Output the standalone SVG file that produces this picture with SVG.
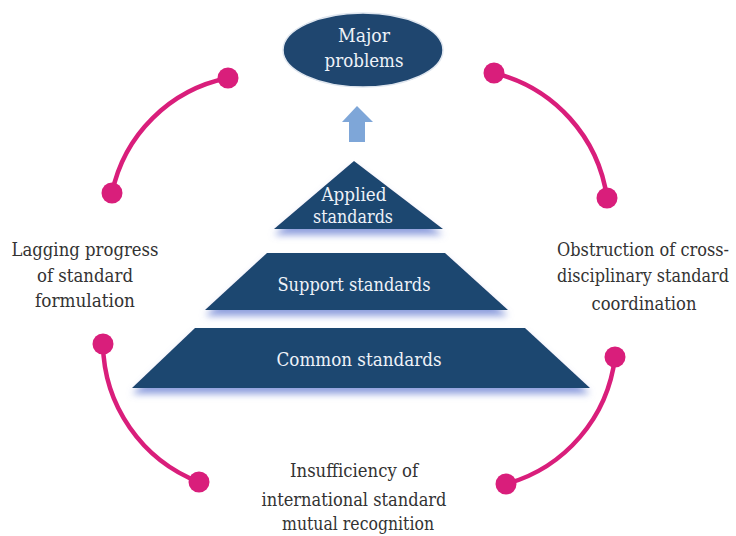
<svg xmlns="http://www.w3.org/2000/svg" width="736" height="536" viewBox="0 0 736 536">
  <style>
    .tier { fill: #1f466f; }
    .in { font-family: "DejaVu Serif", serif; font-size: 19px; fill: #eef2f8; text-anchor: middle; }
    .out { font-family: "DejaVu Serif", serif; font-size: 19px; fill: #333333; text-anchor: middle; }
    .small { font-size: 18px; }
    .arc { fill: none; stroke: #d91e7b; stroke-width: 4.5; stroke-linecap: round; }
    .dot { fill: #d91e7b; }
  </style>
  <defs>
    <filter id="glow" x="-10%" y="-20%" width="120%" height="160%">
      <feFlood flood-color="#7d8fd8" flood-opacity="0.85" result="c"/>
      <feComposite in="c" in2="SourceAlpha" operator="in" result="s"/>
      <feOffset in="s" dy="6" result="o"/>
      <feGaussianBlur in="o" stdDeviation="3.5" result="b"/>
      <feMerge>
        <feMergeNode in="b"/>
        <feMergeNode in="SourceGraphic"/>
      </feMerge>
    </filter>
  </defs>
  <rect width="736" height="536" fill="#ffffff"/>

  <!-- top goal -->
  <g id="major-problems">
    <ellipse cx="363" cy="50" rx="80" ry="37" fill="#1f466f" stroke="#dfe6ef" stroke-width="1.5"/>
    <text class="in" x="364" y="42" textLength="52" lengthAdjust="spacingAndGlyphs">Major</text>
    <text class="in" x="364" y="67" textLength="79" lengthAdjust="spacingAndGlyphs">problems</text>
  </g>

  <g id="up-arrow">
    <polygon points="357,106 373,122 365,122 365,142 349,142 349,122 342,122" fill="#7ea6d8"/>
  </g>

  <!-- pyramid tiers -->
  <g id="applied-standards">
    <polygon class="tier" points="354,161 443,229 274,229" filter="url(#glow)"/>
    <text class="in small" x="354" y="201" textLength="65" lengthAdjust="spacingAndGlyphs">Applied</text>
    <text class="in small" x="353" y="223" textLength="80" lengthAdjust="spacingAndGlyphs">standards</text>
  </g>
  <g id="support-standards">
    <polygon class="tier" points="267,253 445,253 508,310 205,310" filter="url(#glow)"/>
    <text class="in" x="354" y="291" textLength="153" lengthAdjust="spacingAndGlyphs">Support standards</text>
  </g>
  <g id="common-standards">
    <polygon class="tier" points="195,328 525,328 590,388 132,388" filter="url(#glow)"/>
    <text class="in" x="359" y="366" textLength="165" lengthAdjust="spacingAndGlyphs">Common standards</text>
  </g>

  <!-- surrounding problem labels -->
  <g id="lagging-progress">
    <text class="out" x="85" y="256" textLength="147" lengthAdjust="spacingAndGlyphs">Lagging progress</text>
    <text class="out" x="85" y="282" textLength="96" lengthAdjust="spacingAndGlyphs">of standard</text>
    <text class="out" x="85" y="307" textLength="100" lengthAdjust="spacingAndGlyphs">formulation</text>
  </g>
  <g id="obstruction">
    <text class="out" x="643" y="256" textLength="172" lengthAdjust="spacingAndGlyphs">Obstruction of cross-</text>
    <text class="out" x="643" y="282" textLength="172" lengthAdjust="spacingAndGlyphs">disciplinary standard</text>
    <text class="out" x="644" y="310" textLength="105" lengthAdjust="spacingAndGlyphs">coordination</text>
  </g>
  <g id="insufficiency">
    <text class="out" x="354" y="477" textLength="128" lengthAdjust="spacingAndGlyphs">Insufficiency of</text>
    <text class="out" x="354" y="506" textLength="185" lengthAdjust="spacingAndGlyphs">international standard</text>
    <text class="out" x="358" y="530" textLength="152" lengthAdjust="spacingAndGlyphs">mutual recognition</text>
  </g>

  <!-- circular connectors -->
  <g id="connectors">
    <path class="arc" d="M112,193 A148,148 0 0 1 228,78"/>
    <circle class="dot" cx="112" cy="193" r="10.5"/>
    <circle class="dot" cx="228" cy="78" r="10.5"/>

    <path class="arc" d="M494,73 A150,150 0 0 1 607,198"/>
    <circle class="dot" cx="494" cy="73" r="10.5"/>
    <circle class="dot" cx="607" cy="198" r="10.5"/>

    <path class="arc" d="M615,357 A150,150 0 0 1 506,484"/>
    <circle class="dot" cx="615" cy="357" r="10.5"/>
    <circle class="dot" cx="506" cy="484" r="10.5"/>

    <path class="arc" d="M199,482 A150,150 0 0 1 103,344"/>
    <circle class="dot" cx="199" cy="482" r="10.5"/>
    <circle class="dot" cx="103" cy="344" r="10.5"/>
  </g>
</svg>
